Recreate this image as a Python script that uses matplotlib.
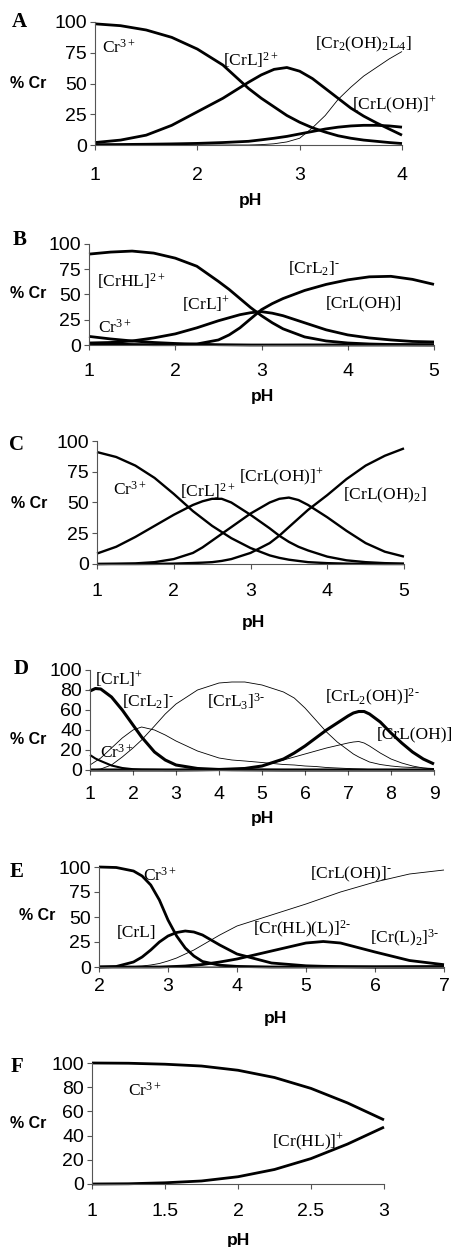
import matplotlib
matplotlib.use('Agg')
import matplotlib.pyplot as plt
from matplotlib.ticker import FormatStrFormatter

plt.rcParams.update({
    'font.family': 'Liberation Sans',
    'mathtext.fontset': 'custom',
    'mathtext.rm': 'Liberation Serif',
    'mathtext.it': 'Liberation Serif',
    'mathtext.bf': 'Liberation Serif:bold',
})

W, H = 463, 1247
SERIF = 'Liberation Serif'
BOLD, THIN = 2.0, 0.6

# ---- Panel A ----
a_ph = [1, 1.25, 1.5, 1.75, 2, 2.25, 2.5, 2.625, 2.75, 2.875, 3, 3.125, 3.25,
        3.375, 3.5, 3.625, 3.75, 3.875, 4]
a_cr = [98.5, 97, 93.5, 87.5, 78, 65, 46, 38, 31, 24, 18.5, 14, 10.5,
        7.5, 5.5, 4, 3, 2, 1.2]
a_crl = [2, 4, 8, 16, 27, 38, 51, 57, 61.5, 63, 60, 54, 46,
         38, 30, 23.5, 18, 13, 8]
a_crloh = [0.3, 0.4, 0.6, 0.9, 1.3, 2, 3, 4.2, 5.5, 7, 9, 11, 13,
           14.5, 15.5, 16, 16, 15.5, 14.5]
a_cr2oh2l4 = [0, 0, 0, 0, 0, 0, 0, 0.3, 1, 2.5, 5.5, 14, 24,
              37, 47, 56, 63, 70, 76]

# ---- Panel B ----
b_ph = [1, 1.25, 1.5, 1.75, 2, 2.25, 2.5, 2.625, 2.75, 2.875, 3, 3.125, 3.25,
        3.5, 3.75, 4, 4.25, 4.5, 4.75, 5]
b_crhl = [90, 92, 93, 91, 86, 78, 63, 55, 46, 37, 29, 22, 16,
          8, 4, 2, 1, 0.5, 0.3, 0.2]
b_crl = [2, 2.5, 4, 7, 11, 17, 24, 27, 30, 32, 33, 31.5, 29,
         22, 15, 10, 7, 5, 3.5, 3]
b_crl2 = [1.5, 1, 0.5, 0.3, 0.3, 1, 5, 10, 17, 26, 35, 41, 46,
          54, 60, 64.5, 67.5, 68, 65, 60]
b_cr = [8.5, 6, 4, 2.5, 1.5, 0.8, 0.3, 0.2, 0.1, 0, 0, 0, 0,
        0, 0, 0, 0, 0, 0, 0]
b_crloh = [0, 0, 0, 0, 0, 0, 0, 0.1, 0.3, 0.4, 0.5, 0.6, 0.6,
           0.7, 0.7, 0.8, 0.8, 0.8, 0.8, 0.8]

# ---- Panel C ----
c_ph = [1, 1.25, 1.5, 1.75, 2, 2.25, 2.375, 2.5, 2.625, 2.75, 3, 3.25, 3.375,
        3.5, 3.625, 3.75, 4, 4.25, 4.5, 4.75, 5]
c_cr = [91, 87, 80, 70, 57, 43, 37, 31, 26, 21, 13, 7, 5,
        3.5, 2.5, 1.5, 0.7, 0.3, 0.1, 0, 0]
c_crl = [8.5, 14, 22, 31, 40, 48, 51, 53, 53, 50, 40, 29, 23,
         18, 14, 11, 6, 3, 1.5, 0.7, 0.3]
c_crloh = [0, 0.2, 0.5, 1.5, 4, 9, 13.5, 19, 24.5, 30, 41, 50, 53,
           54, 52, 48, 38, 27, 17, 10, 6]
c_croh2 = [0, 0, 0, 0.1, 0.3, 0.8, 1.1, 1.5, 2.5, 4, 9, 17, 23,
           30, 37, 44, 56, 69, 80, 88, 94]

# ---- Panel D ----
d_ph = [1, 1.125, 1.25, 1.5, 1.75, 2, 2.2, 2.5, 2.75, 3,
        3.5, 4, 4.3, 4.6, 5,
        5.5, 5.75, 6, 6.25, 6.5, 6.75, 7,
        7.125, 7.25, 7.375, 7.5, 7.75, 8,
        8.25, 8.5, 8.75, 9]
d_crl = [79, 81.5, 81, 73, 60, 45, 33, 18, 10, 5,
         1.5, 0.5, 0.3, 0.2, 0.1,
         0, 0, 0, 0, 0, 0, 0,
         0, 0, 0, 0, 0, 0,
         0, 0, 0, 0]
d_cr = [15, 11.5, 9, 4.5, 2, 0.8, 0.4, 0.2, 0, 0,
        0, 0, 0, 0, 0,
        0, 0, 0, 0, 0, 0, 0,
        0, 0, 0, 0, 0, 0,
        0, 0, 0, 0]
d_crl2 = [5, 8.5, 12, 22, 32, 40, 43, 40, 35, 29,
          19, 12, 10, 9, 7.5,
          5.5, 5, 4, 3.5, 2.5, 2, 1.5,
          1.2, 1, 0.8, 0.5, 0.3, 0.2,
          0, 0, 0, 0]
d_crl3 = [0, 0.5, 1, 5, 13, 22, 30, 44, 56, 66,
          80, 87, 88, 88, 85,
          78, 72, 62, 50, 38, 28, 20,
          16, 13, 10.5, 8, 5.5, 4,
          3, 2.5, 2, 1.5]
d_crl2oh = [0, 0, 0, 0, 0, 0, 0, 0, 0, 0,
            0.2, 0.5, 1, 1.5, 4,
            11, 17, 24, 32, 40, 47, 54,
            57, 58.5, 58.5, 56, 48, 37,
            27, 18, 11, 6]
d_crloh = [0, 0, 0, 0, 0, 0, 0, 0, 0, 0,
           0.3, 0.8, 1.2, 2, 4,
           10, 13, 16, 19, 22, 24.5, 27,
           28, 28.5, 27, 24, 17, 11,
           7, 4, 2, 1]

# ---- Panel E ----
e_ph = [2, 2.25, 2.5, 2.625, 2.75, 2.875, 3, 3.125, 3.25, 3.375, 3.5, 3.75, 4,
        4.5, 5, 5.25, 5.5, 6, 6.5, 7]
e_cr = [100, 99.5, 96, 91, 82, 67, 47, 31, 19, 11, 5.5, 1.8, 0.6,
        0, 0, 0, 0, 0, 0, 0]
e_crl = [0, 0.5, 5, 10, 17, 25, 31, 34.5, 36, 35, 32, 22, 13,
         4, 1.2, 0.7, 0.4, 0, 0, 0]
e_crloh = [0, 0, 0.5, 1, 2, 3.5, 6, 9, 13, 17, 22, 32, 41,
           52, 63, 69, 75, 85, 93, 97]
e_crhll = [0, 0, 0, 0, 0, 0, 0.3, 0.6, 1, 1.8, 2.5, 5, 8,
           16, 24, 25.5, 24, 15, 6.5, 2.3]
e_crl2 = [0, 0, 0, 0, 0, 0, 0, 0, 0, 0, 0, 0, 0.2,
          0.3, 0.4, 0.5, 0.6, 0.8, 1, 1.3]

# ---- Panel F ----
f_ph = [1, 1.25, 1.5, 1.75, 2, 2.25, 2.5, 2.75, 3]
f_cr = [100, 99.8, 99, 97.5, 94, 88, 79, 67, 53]
f_crhl = [0, 0.2, 1, 2.5, 6, 12, 21, 33, 47]


fig = plt.figure(figsize=(W / 100, H / 100), dpi=100)


def px_axes(x0, x1, ytop, ybot):
    return fig.add_axes([x0 / W, 1 - ybot / H, (x1 - x0) / W, (ybot - ytop) / H])


def style(ax, xlim, xticks, yticks, xpad):
    ax.set_xlim(*xlim)
    ax.set_ylim(0, 100)
    ax.set_xticks(xticks)
    ax.set_yticks(yticks)
    ax.xaxis.set_major_formatter(FormatStrFormatter('%g'))
    for s in ['top', 'right']:
        ax.spines[s].set_visible(False)
    for s in ['left', 'bottom']:
        ax.spines[s].set_color('#555555')
        ax.spines[s].set_linewidth(0.8)
    ax.tick_params(direction='out', length=3.6, width=0.8, color='#555555', labelsize=14)
    ax.tick_params(axis='x', pad=xpad)
    ax.tick_params(axis='y', pad=2)


def frame_text(letter, lx, ly, crx, cry, phx, phy):
    fig.text(lx / W, 1 - ly / H, letter, family=SERIF, fontweight='bold', fontsize=15,
             ha='center', va='center')
    fig.text(crx / W, 1 - cry / H, '% Cr', fontweight='bold', fontsize=11.5,
             ha='center', va='center')
    fig.text(phx / W, 1 - phy / H, 'pH', fontweight='bold', fontsize=12.5,
             ha='center', va='center')


def label(ax, x, y, s):
    ax.text(x, y, s, family=SERIF, fontsize=12.5, ha='left', va='center_baseline', clip_on=False)


def curve(ax, x, y, lw):
    ax.plot(x, y, color='black', lw=lw, clip_on=False,
            solid_capstyle='butt', solid_joinstyle='round')


# A
ax = px_axes(95, 402, 22, 145)
curve(ax, a_ph, a_cr, BOLD)
curve(ax, a_ph, a_crl, BOLD)
curve(ax, a_ph, a_crloh, BOLD)
curve(ax, a_ph, a_cr2oh2l4, THIN)
style(ax, (1, 4), [1, 2, 3, 4], [0, 25, 50, 75, 100], 12)
label(ax, 1.07, 81, r'Cr$^{3+}$')
label(ax, 2.25, 71, r'[CrL]$^{2+}$')
label(ax, 3.15, 84, r'[Cr$_2$(OH)$_2$L$_4$]')
label(ax, 3.51, 35, r'[CrL(OH)]$^{+}$')
frame_text('A', 19, 22, 28, 83, 250, 200)

# B
ax = px_axes(89, 434, 244, 345)
curve(ax, b_ph, b_crhl, BOLD)
curve(ax, b_ph, b_crl, BOLD)
curve(ax, b_ph, b_crl2, BOLD)
curve(ax, b_ph, b_cr, BOLD)
curve(ax, b_ph, b_crloh, THIN)
style(ax, (1, 5), [1, 2, 3, 4, 5], [0, 25, 50, 75, 100], 9)
label(ax, 1.09, 65, r'[CrHL]$^{2+}$')
label(ax, 2.08, 43, r'[CrL]$^{+}$')
label(ax, 3.31, 78, r'[CrL$_2$]$^{\text{-}}$')
label(ax, 3.75, 43, r'[CrL(OH)]')
label(ax, 1.10, 19, r'Cr$^{3+}$')
frame_text('B', 20, 240, 28, 294, 262, 397)

# C
ax = px_axes(97, 404, 441, 564)
curve(ax, c_ph, c_cr, 1.7)
curve(ax, c_ph, c_crl, 1.7)
curve(ax, c_ph, c_crloh, 1.7)
curve(ax, c_ph, c_croh2, 1.7)
style(ax, (1, 5), [1, 2, 3, 4, 5], [0, 25, 50, 75, 100], 10)
label(ax, 1.21, 62, r'Cr$^{3+}$')
label(ax, 2.08, 61, r'[CrL]$^{2+}$')
label(ax, 2.85, 73, r'[CrL(OH)]$^{+}$')
label(ax, 4.2, 58, r'[CrL(OH)$_2$]')
frame_text('C', 17, 445, 29, 503, 253, 623)

# D
ax = px_axes(90, 434, 670, 770)
curve(ax, d_ph, d_crl, 2.2)
curve(ax, d_ph, d_cr, 1.5)
curve(ax, d_ph, d_crl2, THIN)
curve(ax, d_ph, d_crl3, THIN)
curve(ax, d_ph, d_crl2oh, 2.2)
curve(ax, d_ph, d_crloh, THIN)
style(ax, (1, 9), list(range(1, 10)), [0, 20, 40, 60, 80, 100], 8)
label(ax, 1.12, 93, r'[CrL]$^{+}$')
label(ax, 1.74, 70, r'[CrL$_2$]$^{\text{-}}$')
label(ax, 3.72, 70, r'[CrL$_3$]$^{\text{3-}}$')
label(ax, 6.47, 76, r'[CrL$_2$(OH)]$^{\text{2-}}$')
label(ax, 7.67, 38, r'[CrL(OH)]')
label(ax, 1.23, 19, r'Cr$^{3+}$')
frame_text('D', 21, 669, 28, 740, 262, 819)

# E
ax = px_axes(99, 444, 867, 967)
curve(ax, e_ph, e_cr, BOLD)
curve(ax, e_ph, e_crl, BOLD)
curve(ax, e_ph, e_crloh, THIN)
curve(ax, e_ph, e_crhll, BOLD)
curve(ax, e_ph, e_crl2, THIN)
style(ax, (2, 7), [2, 3, 4, 5, 6, 7], [0, 25, 50, 75, 100], 4)
label(ax, 2.64, 93, r'Cr$^{3+}$')
label(ax, 2.26, 36, r'[CrL]')
label(ax, 5.06, 95, r'[CrL(OH)]$^{\text{-}}$')
label(ax, 4.23, 41, r'[Cr(HL)(L)]$^{\text{2-}}$')
label(ax, 5.93, 32, r'[Cr(L)$_2$]$^{\text{3-}}$')
frame_text('E', 17, 872, 37, 916, 275, 1019)

# F
ax = px_axes(92, 384, 1063, 1184)
curve(ax, f_ph, f_cr, BOLD)
curve(ax, f_ph, f_crhl, BOLD)
style(ax, (1, 3), [1, 1.5, 2, 2.5, 3], [0, 20, 40, 60, 80, 100], 10)
label(ax, 1.25, 79, r'Cr$^{3+}$')
label(ax, 2.23, 37, r'[Cr(HL)]$^{+}$')
frame_text('F', 17, 1067, 28, 1123, 238, 1240)

fig.savefig('out.png', dpi=100)
